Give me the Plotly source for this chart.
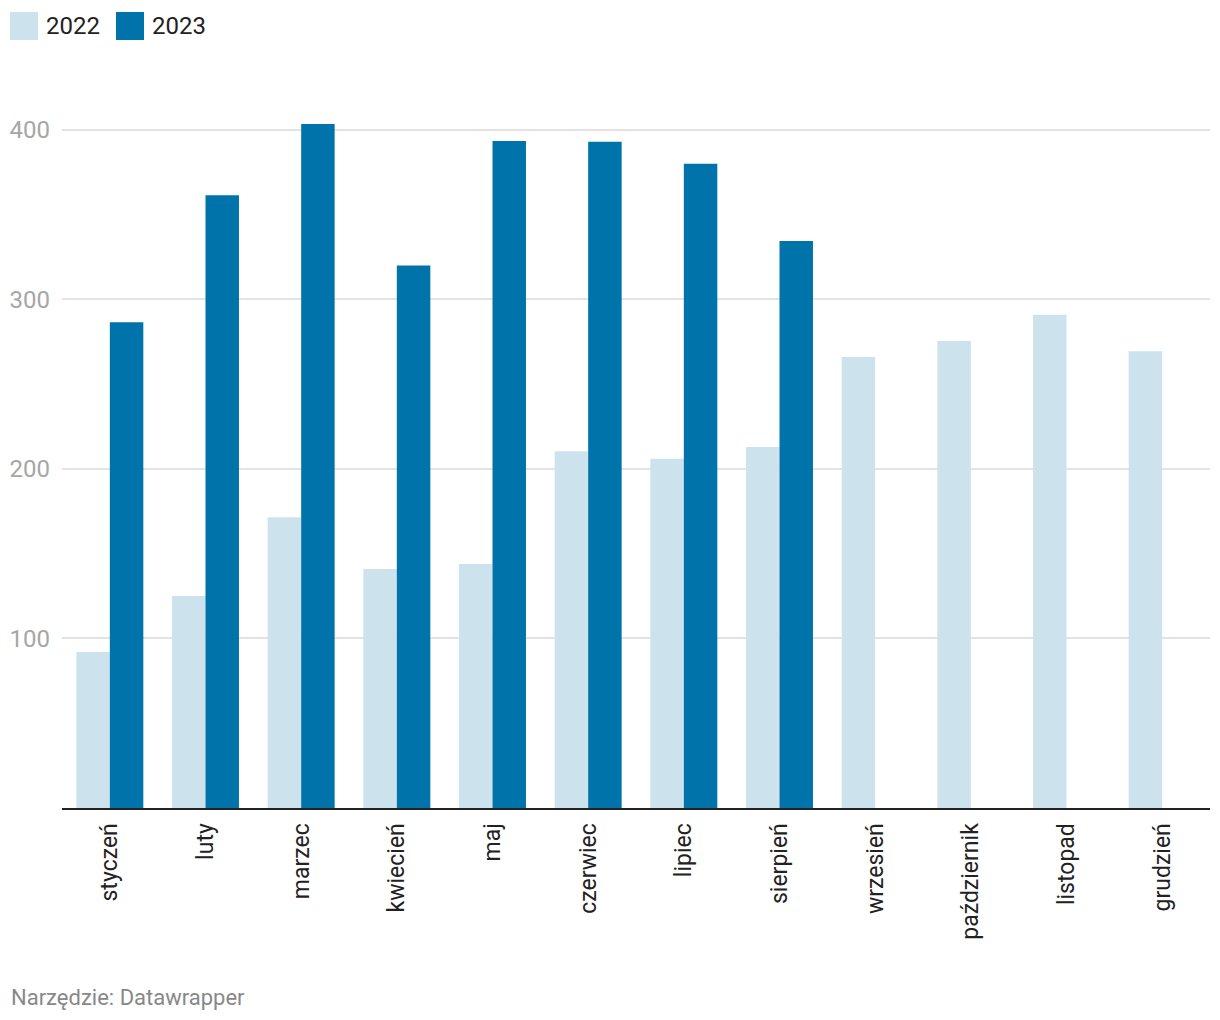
import plotly.graph_objects as go

months = ["styczeń", "luty", "marzec", "kwiecień", "maj", "czerwiec",
          "lipiec", "sierpień", "wrzesień", "październik", "listopad", "grudzień"]
values_2022 = [92, 125, 171.5, 141, 144, 210.5, 206, 213, 266, 275.5, 291, 269.5]
values_2023 = [286.5, 361.5, 403.5, 320, 393.5, 393, 380, 334.5, None, None, None, None]
series_names = ["2022", "2023"]
colors = ["#cce3ee", "#0074aa"]
y_ticks = [100, 200, 300, 400]

fig = go.Figure()
for name, vals, col in zip(series_names, [values_2022, values_2023], colors):
    fig.add_trace(go.Bar(x=months, y=vals, name=name, marker=dict(color=col, line=dict(width=0)),
                         showlegend=False))

# manual legend (squares + labels)
legend_x = [10, 116]
for i, (name, col) in enumerate(zip(series_names, colors)):
    fig.add_shape(type="rect", xref="paper", yref="paper",
                  x0=(legend_x[i] - 62) / 1148, x1=(legend_x[i] + 28 - 62) / 1148,
                  y0=(808 - 40) / 712, y1=(808 - 12) / 712,
                  fillcolor=col, line=dict(width=0))
    fig.add_annotation(text=name, xref="paper", yref="paper",
                       x=(legend_x[i] + 34 - 62) / 1148, y=(808 - 26) / 712,
                       xanchor="left", yanchor="middle", showarrow=False,
                       font=dict(size=24, color="#222222", family="Roboto"))

fig.add_annotation(text="Narzędzie: Datawrapper", xref="paper", yref="paper",
                   x=(9 - 62) / 1148, y=(808 - 997) / 712, xanchor="left", yanchor="middle",
                   showarrow=False, font=dict(size=22, color="#888888", family="Roboto"))

fig.update_layout(
    width=1220, height=1020,
    margin=dict(l=62, r=10, t=96, b=212),
    paper_bgcolor="white", plot_bgcolor="white",
    barmode="group", bargap=0.3, bargroupgap=0,
    font=dict(family="Roboto", size=23, color="#222222"),
    xaxis=dict(tickangle=-90, showline=True, linecolor="#222222", linewidth=2,
               ticks="", showgrid=False, tickfont=dict(size=23, color="#222222"),
               ticklabelstandoff=4),
    yaxis=dict(range=[0, 420], tickvals=y_ticks, showgrid=True, gridcolor="#e3e3e3",
               gridwidth=1.5, zeroline=False, showline=False, ticks="",
               tickfont=dict(size=24, color="#a6a6a6"), ticklabelstandoff=11),
)

fig.write_html("out.html", post_script="document.body.style.margin='0';",
               config={"displayModeBar": False})
